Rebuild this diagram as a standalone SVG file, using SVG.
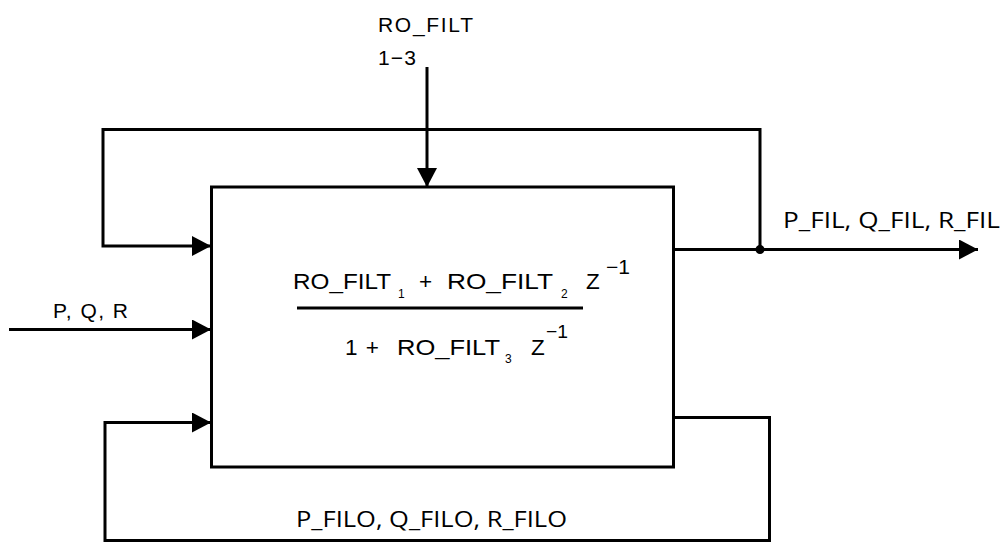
<svg xmlns="http://www.w3.org/2000/svg" width="1008" height="542" viewBox="0 0 1008 542">
<style>
.ln{fill:none;stroke:#000;stroke-width:3;stroke-linecap:butt;stroke-linejoin:miter}
.t{font-family:"Liberation Sans",Arial,sans-serif;font-size:21px;fill:#000}
.o{font-family:"Open Sans","Noto Sans",sans-serif;font-size:21px;fill:#000}
.f{font-family:"Liberation Sans",Arial,sans-serif;font-size:22.5px;fill:#000}
.s{font-family:"Liberation Sans",Arial,sans-serif;font-size:12px;fill:#000}
.p{font-family:"Liberation Sans",Arial,sans-serif;font-size:20px;fill:#000}
.q{font-family:"Liberation Sans",Arial,sans-serif;font-size:19px;fill:#000}
</style>
<defs>
<marker id="ah" markerUnits="userSpaceOnUse" markerWidth="20" markerHeight="20" viewBox="0 0 19 20" refX="19" refY="10" orient="auto">
<path d="M0,0 L19,10 L0,20 Z" fill="#000"/>
</marker>
</defs>
<rect width="1008" height="542" fill="#fff"/>
<g id="filter-block">
<rect x="211.5" y="187" width="462" height="280" class="ln"/>
<text class="f" x="293" y="289" textLength="98" lengthAdjust="spacingAndGlyphs">RO_FILT</text>
<text class="s" x="398" y="298">1</text>
<text class="f" x="419" y="289">+</text>
<text class="f" x="447" y="289" textLength="106" lengthAdjust="spacingAndGlyphs">RO_FILT</text>
<text class="s" x="561" y="298">2</text>
<text class="f" x="586" y="289">Z</text>
<text class="p" x="606" y="274" textLength="24" lengthAdjust="spacingAndGlyphs">−1</text>
<line x1="297" y1="308" x2="583" y2="308" class="ln"/>
<text class="f" x="345" y="355" textLength="34" lengthAdjust="spacing">1 +</text>
<text class="f" x="397" y="355" textLength="103" lengthAdjust="spacingAndGlyphs">RO_FILT</text>
<text class="s" x="505" y="363">3</text>
<text class="f" x="531" y="355">Z</text>
<text class="q" x="546" y="338" textLength="22" lengthAdjust="spacingAndGlyphs">−1</text>
</g>
<g id="connectors">
<line x1="427" y1="67" x2="427" y2="187" class="ln" marker-end="url(#ah)"/>
<line x1="9" y1="329.5" x2="211" y2="329.5" class="ln" marker-end="url(#ah)"/>
<polyline points="760,249.5 760,129.5 103,129.5 103,246 211,246" class="ln" marker-end="url(#ah)"/>
<line x1="673.5" y1="249.5" x2="978" y2="249.5" class="ln" marker-end="url(#ah)"/>
<circle cx="760" cy="249.5" r="4.5" fill="#000"/>
<polyline points="673.5,417.5 769.5,417.5 769.5,540.5 105,540.5 105,422.5 211,422.5" class="ln" marker-end="url(#ah)"/>
</g>
<g id="labels">
<text class="t" x="378" y="32" textLength="95" lengthAdjust="spacing">RO_FILT</text>
<text class="t" x="378" y="65" textLength="38" lengthAdjust="spacing">1−3</text>
<text class="t" x="53" y="318" textLength="75" lengthAdjust="spacing">P, Q, R</text>
<text class="o" x="783" y="228" textLength="217" lengthAdjust="spacingAndGlyphs">P_FIL, Q_FIL, R_FIL</text>
<text class="o" x="296" y="527" textLength="271" lengthAdjust="spacingAndGlyphs">P_FILO, Q_FILO, R_FILO</text>
</g>
</svg>
